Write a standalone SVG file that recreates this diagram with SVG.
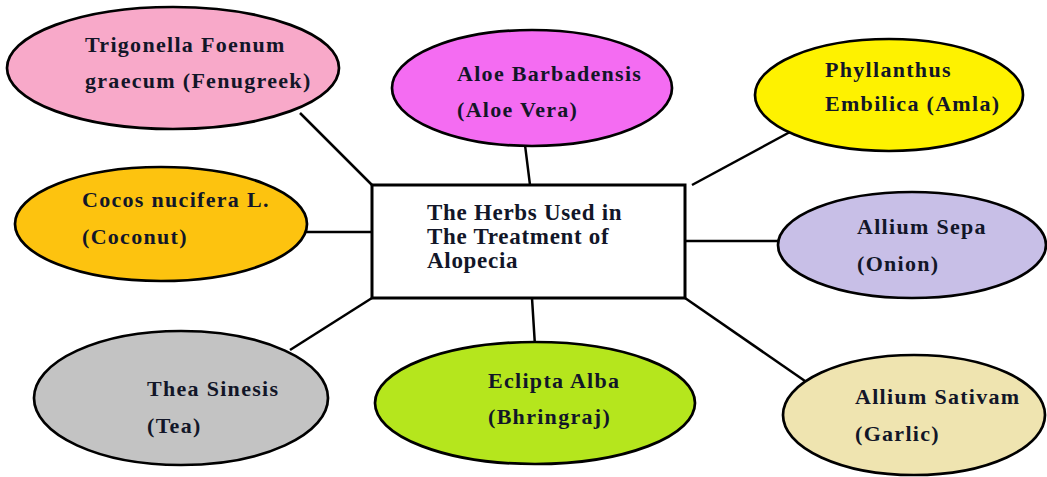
<svg xmlns="http://www.w3.org/2000/svg" width="1047" height="477" viewBox="0 0 1047 477">
<style>
.n{stroke:#000;stroke-width:2.7}
.t{font-family:"Liberation Serif","Times New Roman",serif;font-weight:bold;font-size:22px;letter-spacing:1.3px;fill:#121628}
.b{font-size:23px;letter-spacing:0.7px}
.c{stroke:#000;stroke-width:2.5;fill:none}
</style>
<rect width="1047" height="477" fill="#fff"/>
<g id="connectors">
<line class="c" x1="300" y1="113" x2="372" y2="185"/>
<line class="c" x1="525" y1="145" x2="530" y2="185"/>
<line class="c" x1="790" y1="132" x2="692" y2="185"/>
<line class="c" x1="300" y1="232" x2="372" y2="232"/>
<line class="c" x1="685" y1="241" x2="787" y2="241"/>
<line class="c" x1="372" y1="298" x2="290" y2="350"/>
<line class="c" x1="532" y1="298" x2="535" y2="346"/>
<line class="c" x1="685" y1="298" x2="805" y2="381"/>
</g>
<g id="center">
<rect x="372" y="185" width="313" height="113" fill="#fff" stroke="#000" stroke-width="3"/>
<text class="t b" x="427" y="220">The Herbs Used in</text>
<text class="t b" x="427" y="244">The Treatment of</text>
<text class="t b" x="427" y="268">Alopecia</text>
</g>
<g id="fenugreek">
<ellipse class="n" cx="173" cy="68" rx="166" ry="61" fill="#F8A9C9"/>
<text class="t" x="85" y="52">Trigonella Foenum</text>
<text class="t" x="85" y="88">graecum (Fenugreek)</text>
</g>
<g id="aloe">
<ellipse class="n" cx="532" cy="88" rx="140" ry="58" fill="#F46CF2"/>
<text class="t" x="457" y="81">Aloe Barbadensis</text>
<text class="t" x="457" y="117">(Aloe Vera)</text>
</g>
<g id="amla">
<ellipse class="n" cx="889" cy="95" rx="134" ry="56" fill="#FEF200"/>
<text class="t" x="825" y="77">Phyllanthus</text>
<text class="t" x="825" y="111">Embilica (Amla)</text>
</g>
<g id="coconut">
<ellipse class="n" cx="161" cy="224" rx="146" ry="57" fill="#FDC30F"/>
<text class="t" x="82" y="207">Cocos nucifera L.</text>
<text class="t" x="82" y="244">(Coconut)</text>
</g>
<g id="onion">
<ellipse class="n" cx="912" cy="245" rx="134" ry="53" fill="#C8BFE7"/>
<text class="t" x="857" y="234">Allium Sepa</text>
<text class="t" x="857" y="271">(Onion)</text>
</g>
<g id="tea">
<ellipse class="n" cx="181" cy="398" rx="147" ry="67" fill="#C3C3C3"/>
<text class="t" x="147" y="396">Thea Sinesis</text>
<text class="t" x="147" y="433">(Tea)</text>
</g>
<g id="bhringraj">
<ellipse class="n" cx="535" cy="403" rx="160" ry="61" fill="#B5E61D"/>
<text class="t" x="488" y="388">Eclipta Alba</text>
<text class="t" x="488" y="424">(Bhringraj)</text>
</g>
<g id="garlic">
<ellipse class="n" cx="914" cy="415" rx="131" ry="60" fill="#EFE4B0"/>
<text class="t" x="855" y="404">Allium Sativam</text>
<text class="t" x="855" y="441">(Garlic)</text>
</g>
</svg>
